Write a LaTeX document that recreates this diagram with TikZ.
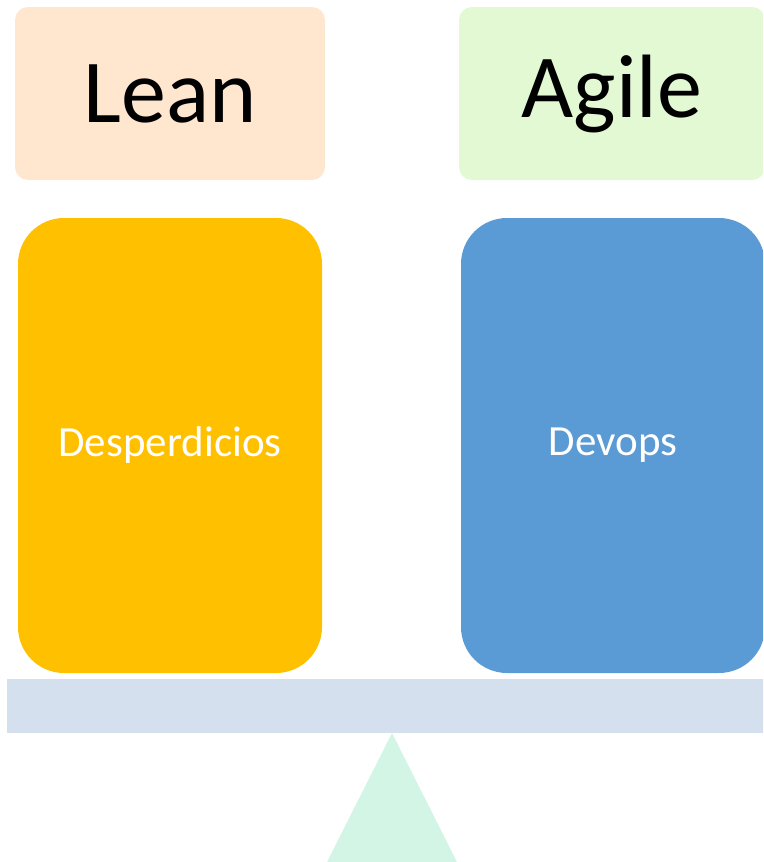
\documentclass[tikz,border=0pt]{standalone}
\usepackage{fontspec}
\setmainfont{Carlito}
\definecolor{leanfill}{HTML}{FFE7CF}
\definecolor{agilefill}{HTML}{E2F9D4}
\definecolor{orangefill}{HTML}{FFC000}
\definecolor{bluefill}{HTML}{5B9BD5}
\definecolor{barfill}{HTML}{D5E0EE}
\definecolor{trifill}{HTML}{D3F5E6}
\begin{document}
\begin{tikzpicture}[x=1pt,y=-1pt,
  titlebox/.style={rounded corners=13pt, minimum width=310pt, minimum height=173pt, inner sep=0pt, font=\fontsize{90}{100}\selectfont, text=black},
  bigbox/.style={rounded corners=46pt, minimum width=304pt, minimum height=455pt, inner sep=0pt, font=\fontsize{43}{48}\selectfont, text=white}]
\useasboundingbox (0,0) rectangle (763,862);
\begin{scope}
\clip (0,0) rectangle (763,862);
\node[titlebox, fill=leanfill] (lean) at (170,93.5) {Lean};
\node[titlebox, fill=agilefill, minimum width=306pt] (agile) at (612,93.5) {Agile};
\node[bigbox, fill=orangefill] (desp) at (170,445.5) {\raisebox{-2pt}{Desperdicios}};
\node[bigbox, fill=bluefill] (devops) at (613,445.5) {\raisebox{-2pt}{Devops}};
\fill[barfill] (7,679) rectangle (770,733);
\fill[trifill] (392,733) -- (327,862) -- (457,862) -- cycle;
\end{scope}
\end{tikzpicture}
\end{document}
